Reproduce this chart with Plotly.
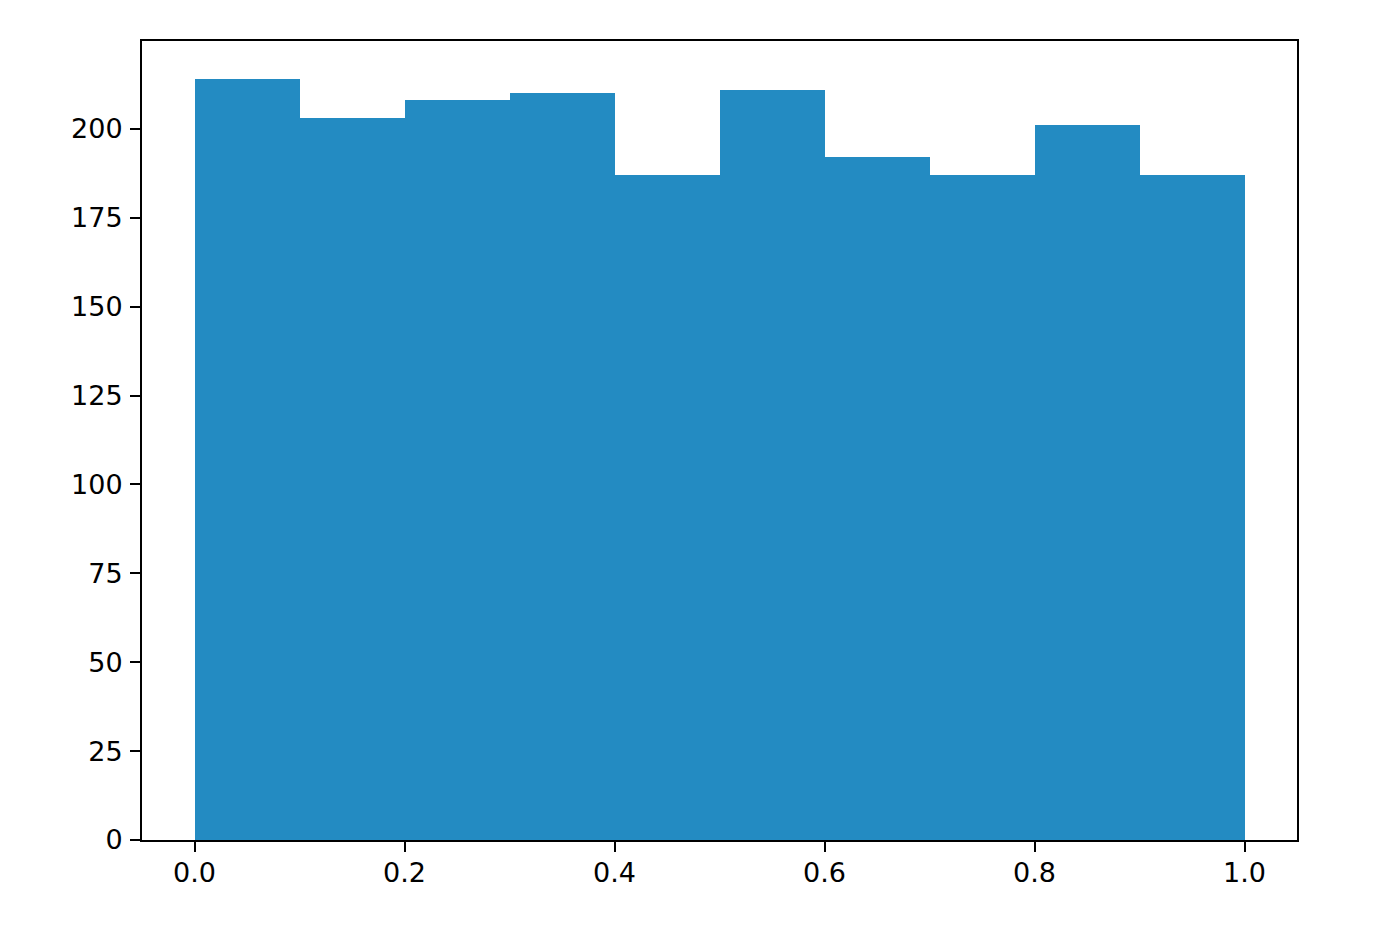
import numpy as np
import plotly.graph_objects as go

# histogram: 10 bins over [0, 1], counts
bin_left = [0.0, 0.1, 0.2, 0.3, 0.4, 0.5, 0.6, 0.7, 0.8, 0.9]
counts = [214, 203, 208, 210, 187, 211, 192, 187, 201, 187]
bin_width = 0.1

x_ticks = [0.0, 0.2, 0.4, 0.6, 0.8, 1.0]
y_ticks = [0, 25, 50, 75, 100, 125, 150, 175, 200]

centers = np.array(bin_left) + bin_width / 2

fig = go.Figure()
fig.add_trace(go.Bar(
    x=centers, y=counts, width=bin_width,
    marker=dict(color='#238bc2', line=dict(width=0)),
    showlegend=False,
))

axis_style = dict(
    showline=True, linecolor='black', linewidth=2, mirror=True,
    ticks='outside', ticklen=10, tickwidth=2, tickcolor='black',
    showgrid=False, zeroline=False,
    tickfont=dict(family='DejaVu Sans', size=27, color='black'),
)

fig.update_xaxes(range=[-0.05, 1.05], tickvals=x_ticks, ticklabelstandoff=-2,
                 ticktext=[f'{v:.1f}' for v in x_ticks], **axis_style)
fig.update_yaxes(range=[0, max(counts) * 1.05], tickvals=y_ticks,
                 ticklabelstandoff=2, **axis_style)

# page body adds an 8px margin, so the figure is a bit smaller than the window
fig.update_layout(
    width=1360, height=916,
    margin=dict(l=134, r=71, t=33, b=84),
    plot_bgcolor='white', paper_bgcolor='white',
    bargap=0,
)

fig.write_html("out.html")
